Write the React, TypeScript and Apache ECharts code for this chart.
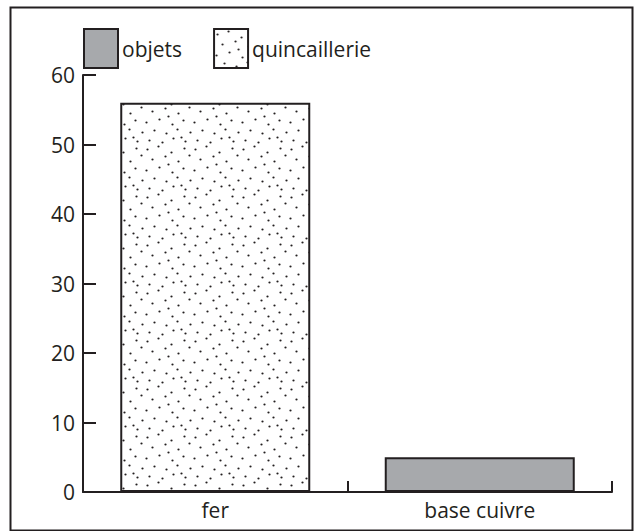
import React, { useEffect, useRef } from "react";
import * as echarts from "echarts";

const categories = ["fer", "base cuivre"];
const objets: (number | string)[] = ["-", 5];
const quincaillerie: (number | string)[] = [56, "-"];
const yTicks = { min: 0, max: 60, interval: 10 };

const INK = "#231f20";
const GREY = "#a7a9ac";
const FONT = "Open Sans";

const DOTS: [number, number][] = [
  [3, 5], [14, 2], [27, 8], [40, 4], [8, 15], [21, 12], [34, 17], [45, 11],
  [2, 26], [15, 23], [28, 28], [39, 24], [10, 34], [22, 37], [33, 33], [46, 36],
  [5, 44], [18, 46], [29, 42], [41, 45], [24, 20], [37, 41],
];

function makeDotPattern(): HTMLCanvasElement {
  const c = document.createElement("canvas");
  c.width = 48;
  c.height = 48;
  const ctx = c.getContext("2d")!;
  ctx.fillStyle = "#ffffff";
  ctx.fillRect(0, 0, 48, 48);
  ctx.fillStyle = INK;
  for (const [x, y] of DOTS) {
    ctx.beginPath();
    ctx.arc(x + 0.5, y + 0.5, 1.1, 0, Math.PI * 2);
    ctx.fill();
  }
  return c;
}

export default function App() {
  const ref = useRef<HTMLDivElement>(null);
  useEffect(() => {
    if (!ref.current) return;
    const chart = echarts.init(ref.current, undefined, { renderer: "svg" });
    const tile = makeDotPattern();
    const dotted: any = {
      image: tile,
      repeat: "repeat",
      imageWidth: 48,
      imageHeight: 48,
    };
    chart.setOption({
      animation: false,
      backgroundColor: "#ffffff",
      textStyle: { fontFamily: FONT, color: INK },
      graphic: [
        {
          type: "rect",
          shape: { x: 10.5, y: 7.5, width: 622, height: 523 },
          style: { fill: "none", stroke: INK, lineWidth: 2 },
          silent: true,
          z: 100,
        },
      ],
      legend: {
        left: 83,
        top: 28,
        icon: "rect",
        itemWidth: 34,
        itemHeight: 39,
        itemGap: 31,
        padding: 0,
        textStyle: { fontSize: 21, color: INK, fontFamily: FONT, padding: [0, 0, 0, -1] },
        data: ["objets", "quincaillerie"],
      },
      grid: [
        { left: 83, right: 22, top: 75, bottom: 39 },
        { left: 83, width: 13, top: 75, bottom: 39 },
      ],
      xAxis: [
        {
          type: "category",
          gridIndex: 0,
          data: categories,
          axisLine: { show: true, lineStyle: { color: INK, width: 2 } },
          axisTick: { show: true, inside: true, length: 11, interval: 0, lineStyle: { color: INK, width: 2 } },
          axisLabel: { fontSize: 21, color: INK, fontFamily: FONT, margin: 7 },
        },
        {
          type: "value",
          gridIndex: 1,
          min: 0,
          max: 1,
          show: false,
        },
      ],
      yAxis: [
        {
          type: "value",
          gridIndex: 0,
          min: yTicks.min,
          max: yTicks.max,
          interval: yTicks.interval,
          axisLine: { show: true, lineStyle: { color: INK, width: 2 } },
          axisTick: { show: true, inside: true, length: 13, lineStyle: { color: INK, width: 2 } },
          axisLabel: { fontSize: 21, color: INK, fontFamily: FONT, margin: 8 },
          splitLine: { show: false },
        },
        {
          type: "value",
          gridIndex: 1,
          min: yTicks.min,
          max: yTicks.max,
          interval: yTicks.interval,
          axisLine: { show: false },
          axisTick: { show: false },
          axisLabel: { show: false },
          splitLine: { show: true, lineStyle: { color: INK, width: 2, type: "solid" } },
        },
      ],
      series: [
        {
          name: "objets",
          type: "bar",
          stack: "s",
          barWidth: 190,
          data: objets,
          itemStyle: { color: GREY, borderColor: INK, borderWidth: 2 },
        },
        {
          name: "quincaillerie",
          type: "bar",
          stack: "s",
          barWidth: 190,
          data: quincaillerie,
          itemStyle: { color: dotted, borderColor: INK, borderWidth: 2 },
        },
      ],
    });
    return () => chart.dispose();
  }, []);
  return (
    <div
      ref={ref}
      style={{ position: "absolute", left: 0, top: 0, width: 634, height: 531 }}
    />
  );
}
